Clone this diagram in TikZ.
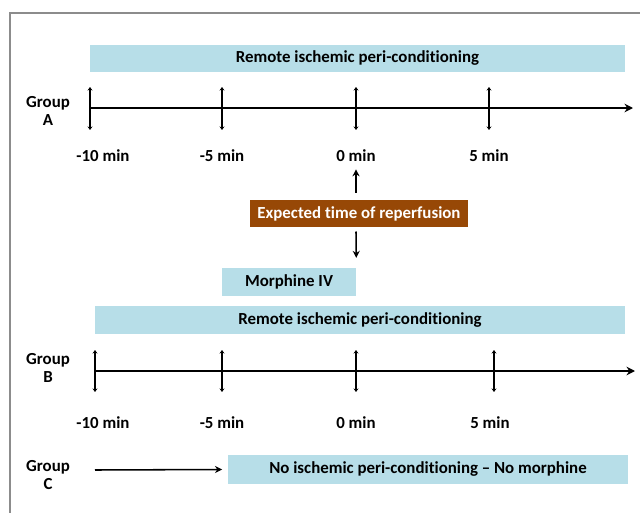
\documentclass[tikz,border=0pt]{standalone}
\usepackage{fontspec}
\setmainfont{Carlito}[Ligatures=NoCommon]
\usetikzlibrary{arrows.meta}
\definecolor{barblue}{RGB}{183,222,232}
\definecolor{reperbrown}{RGB}{151,72,6}
\definecolor{framegray}{RGB}{140,140,140}
\newcommand{\diagfont}{\fontsize{12}{13}\selectfont\bfseries}
\tikzset{
  bar/.style={fill=barblue, inner sep=0pt, font=\diagfont},
  grouplabel/.style={align=center, font=\diagfont, inner sep=0pt},
  timelabel/.style={font=\diagfont, inner sep=1pt},
  tick/.style={line width=1.1pt, {Stealth[length=2.5pt,width=3.5pt]}-{Stealth[length=2.5pt,width=3.5pt]}},
  axis/.style={line width=1.1pt, -{Stealth[length=6pt,width=6pt]}},
  pointer/.style={line width=1.1pt, -{Stealth[length=5pt,width=5pt]}}
}
\begin{document}
\begin{tikzpicture}[x=0.025cm, y=-0.025cm]
  \useasboundingbox (0,0) rectangle (640,513);
  % frame
  \draw[framegray, line width=0.8pt] (10,513) -- (10,13) -- (640,13);

  % group A
  \node[bar, minimum width=13.375cm, minimum height=0.675cm] (remA) at (357.5,58.5) {Remote ischemic peri-conditioning};
  \node[grouplabel] (grpA) at (48,111) {Group\\A};
  \coordinate (axA0) at (90,108);
  \coordinate (axA1) at (633,108);
  \draw[axis] (axA0) -- (axA1);
  \foreach \x in {90,222,356,489}
    \draw[tick] (\x,87) -- (\x,130);
  \node[timelabel] (m10A) at (103,156) {-10 min};
  \node[timelabel] (m5A) at (222,156) {-5 min};
  \node[timelabel] (zeroA) at (356,156) {0 min};
  \node[timelabel] (p5A) at (489,156) {5 min};

  % reperfusion
  \node[fill=reperbrown, text=white, font=\diagfont, inner sep=0pt,
        minimum width=5.45cm, minimum height=0.675cm] (reper) at (359,213.5) {Expected time of reperfusion};
  \node[bar, minimum width=3.35cm, minimum height=0.7cm] (morph) at (289,282) {Morphine IV};
  \draw[pointer] ([yshift=5pt]reper.north -| zeroA) -- ([yshift=-4pt]zeroA.south);
  \draw[pointer] ([yshift=-3pt]reper.south -| zeroA) -- ([yshift=7pt]morph.north east);

  % group B
  \node[bar, minimum width=13.25cm, minimum height=0.7cm] (remB) at (360,320) {Remote ischemic peri-conditioning};
  \node[grouplabel] (grpB) at (48,368) {Group\\B};
  \coordinate (axB0) at (95,371);
  \coordinate (axB1) at (635,371);
  \draw[axis] (axB0) -- (axB1);
  \foreach \x in {95,222,356,494}
    \draw[tick] (\x,350) -- (\x,392);
  \node[timelabel] (m10B) at (103,423) {-10 min};
  \node[timelabel] (m5B) at (222,423) {-5 min};
  \node[timelabel] (zeroB) at (356,423) {0 min};
  \node[timelabel] (p5B) at (490,423) {5 min};

  % group C
  \node[grouplabel] (grpC) at (48,475) {Group\\C};
  \node[bar, minimum width=10cm, minimum height=0.725cm] (noC) at (428,469.5) {No ischemic peri-conditioning -- No morphine};
  \coordinate (startC) at (95,470);
  \draw[pointer] (startC) -- ([xshift=-4pt]noC.west);
\end{tikzpicture}
\end{document}
